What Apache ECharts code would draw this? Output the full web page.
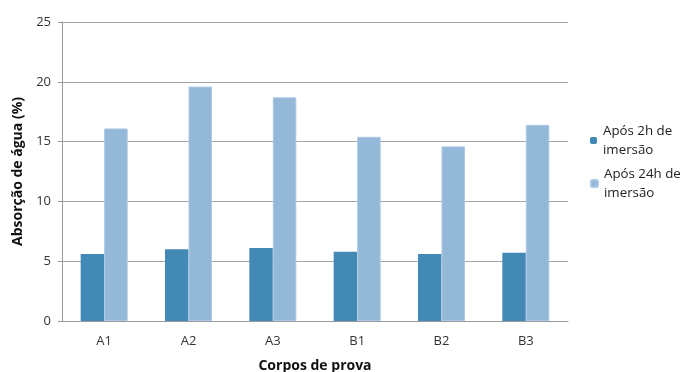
<!DOCTYPE html>
<html>
<head>
<meta charset="utf-8">
<script src="https://cdn.jsdelivr.net/npm/echarts@6/dist/echarts.min.js"></script>
<style>
  html, body { margin: 0; padding: 0; background: #fff; }
  #chart { width: 686px; height: 372px; }
</style>
</head>
<body>
<div id="chart"></div>
<script>
// Specimens and water absorption (%) after each immersion time
const categories = ['A1', 'A2', 'A3', 'B1', 'B2', 'B3'];
const after2h = [5.6, 6.0, 6.1, 5.8, 5.6, 5.7];
const after24h = [16.1, 19.6, 18.7, 15.4, 14.6, 16.4];
const seriesNames = ['Após 2h de\nimersão', 'Após 24h de\nimersão'];
const yTicks = { min: 0, max: 25, interval: 5 };

const font = '"Open Sans", "DejaVu Sans", sans-serif';
const chart = echarts.init(document.getElementById('chart'));

// Legend text padded on top so the colour square sits beside the first line
function legendFor(name, top) {
  return {
    data: [name],
    orient: 'vertical',
    left: 590,
    top: top,
    itemWidth: 7,
    itemHeight: 7,
    itemGap: 0,
    padding: 0,
    selectedMode: false,
    textStyle: {
      fontFamily: font,
      fontSize: 13.3,
      color: '#222',
      lineHeight: 19,
      padding: [19, 0, 0, 1]
    }
  };
}

chart.setOption({
  animation: false,
  textStyle: { fontFamily: font },
  // fixed plot rectangle; the axis title may run past the bottom edge
  grid: { left: 62, right: 118, top: 22, bottom: 51, outerBoundsMode: 'none', containLabel: false },
  legend: [legendFor(seriesNames[0], 112), legendFor(seriesNames[1], 155)],
  xAxis: {
    type: 'category',
    data: categories,
    name: 'Corpos de prova',
    nameLocation: 'middle',
    nameGap: 38,
    nameTextStyle: { fontFamily: font, fontSize: 14, fontWeight: 'bold', color: '#111' },
    axisLine: { lineStyle: { color: '#9a9a9a', width: 1 } },
    axisTick: { show: false },
    axisLabel: { fontFamily: font, fontSize: 13, color: '#333', margin: 14 }
  },
  yAxis: {
    type: 'value',
    min: yTicks.min,
    max: yTicks.max,
    interval: yTicks.interval,
    name: 'Absorção de água (%)',
    nameLocation: 'middle',
    nameGap: 28,
    nameTextStyle: { fontFamily: font, fontSize: 14, fontWeight: 'bold', color: '#111' },
    axisLine: { show: true, lineStyle: { color: '#9a9a9a', width: 1 } },
    axisTick: { show: true, length: 4, lineStyle: { color: '#9a9a9a' } },
    axisLabel: { fontFamily: font, fontSize: 13, color: '#333', margin: 11 },
    splitLine: { lineStyle: { color: '#a6a6a6', width: 1 } }
  },
  series: [
    {
      name: seriesNames[0],
      type: 'bar',
      data: after2h,
      barWidth: 23.5,
      barGap: '0%',
      itemStyle: { color: '#4289b5' }
    },
    {
      name: seriesNames[1],
      type: 'bar',
      data: after24h,
      barWidth: 23.5,
      barGap: '0%',
      itemStyle: { color: '#93b8d8', borderColor: '#abc9e4', borderWidth: 1 }
    }
  ]
});
</script>
</body>
</html>
